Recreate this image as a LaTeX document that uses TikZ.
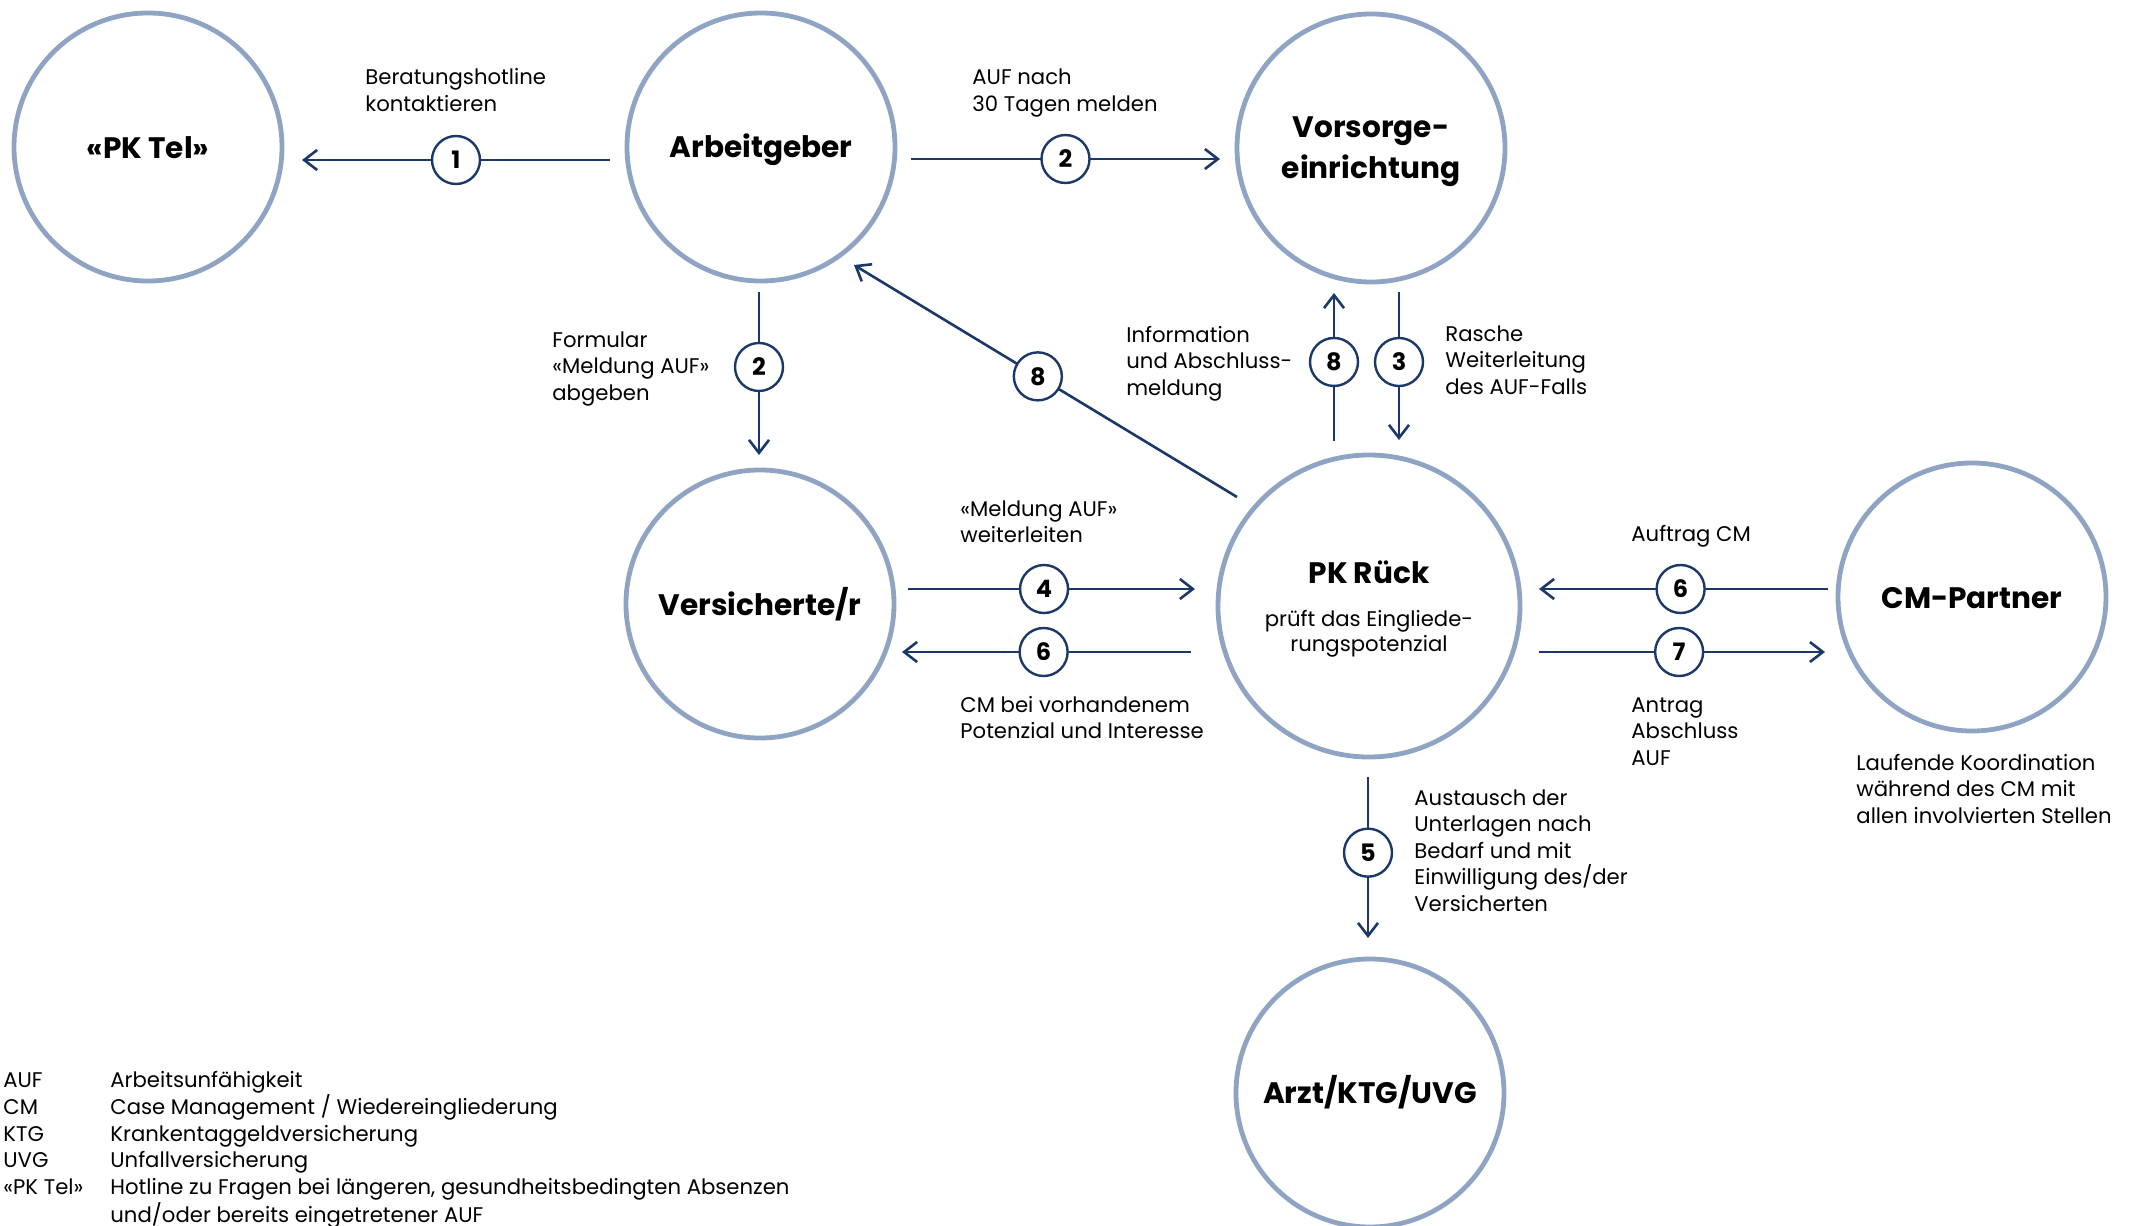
\documentclass[tikz,border=0pt]{standalone}
\usepackage{fontspec}
\setmainfont{Poppins}
\usetikzlibrary{calc,arrows.meta}
\definecolor{ring}{HTML}{8EA4C2}
\definecolor{navy}{HTML}{1B3868}
\tikzset{
  ent/.style={circle,draw=ring,line width=2.4pt,minimum size=#1,inner sep=0pt},
  ttl/.style={anchor=base,inner sep=0pt,font=\bfseries\fontsize{14.8}{20.5}\selectfont,align=center},
  lbl/.style={anchor=base west,inner sep=0pt,font=\fontsize{10.6}{13.25}\selectfont,align=left},
  sub/.style={anchor=base,inner sep=0pt,font=\fontsize{10.6}{12.5}\selectfont,align=center},
  arr/.style={draw=navy,line width=1.3pt,-{Straight Barb[length=6.5pt,width=10pt,line width=1.3pt]}},
  num/.style={circle,draw=navy,fill=white,line width=1.2pt,minimum size=24pt,inner sep=0pt,font=\bfseries\fontsize{12}{12}\selectfont},
}
\begin{document}
\begin{tikzpicture}[x=0.5pt,y=-0.5pt]
\useasboundingbox (0,0) rectangle (2132,1226);
% entities
\node[ent=134pt] (pktel) at (148,147) {};
\node[ent=134pt] (arb) at (761,147) {};
\node[ent=134pt] (vor) at (1371,148) {};
\node[ent=134pt] (vers) at (760,604) {};
\node[ent=151pt] (pk) at (1369,606) {};
\node[ent=134pt] (cm) at (1972,597) {};
\node[ent=134pt] (arzt) at (1370,1093) {};
% titles (base anchor = baseline of the last line)
\node[ttl] (pkteltxt) at ($(pktel.center)+(0,11)$) {«PK Tel»};
\node[ttl] (arbtxt) at ($(arb.center)+(0,10)$) {Arbeitgeber};
\node[ttl] (vortxt) at ($(vor.center)+(0,30)$) {Vorsorge-\\einrichtung};
\node[ttl] (verstxt) at ($(vers.center)+(0,11)$) {Versicherte/r};
\node[ttl] (pktxt) at ($(pk.center)+(0,-23)$) {PK Rück};
\node[sub] (pksub) at ($(pk.center)+(0,45)$) {prüft das Eingliede-\\rungspotenzial};
\node[ttl] (cmtxt) at ($(cm.center)+(0,11)$) {CM-Partner};
\node[ttl] (arzttxt) at ($(arzt.center)+(0,10)$) {Arzt/KTG/UVG};
% connectors
\draw[arr] ($(arb.center)+(-151,13)$) -- node[num]{1} ($(pktel.center)+(154,13)$);
\draw[arr] ($(arb.center)+(150,12)$) -- node[num]{2} ($(vor.center)+(-151,11)$);
\draw[arr] ($(arb.center)+(-2,145)$) -- node[num,pos=0.46]{2} ($(vers.center)+(-1,-149)$);
\draw[arr] ($(vers.center)+(148,-15)$) -- node[num,pos=0.474]{4} ($(pk.center)+(-174,-17)$);
\draw[arr] ($(pk.center)+(-178,46)$) -- node[num,pos=0.51]{6} ($(vers.center)+(142,48)$);
\draw[arr] ($(pk.center)+(-132,-109)$) -- node[num,pos=0.52]{8} ($(arb.center)+(93,118)$);
\draw[arr] ($(pk.center)+(-35,-165)$) -- node[num,pos=0.534]{8} ($(vor.center)+(-37,145)$);
\draw[arr] ($(vor.center)+(28,144)$) -- node[num,pos=0.473]{3} ($(pk.center)+(30,-166)$);
\draw[arr] ($(cm.center)+(-144,-8)$) -- node[num,pos=0.51]{6} ($(pk.center)+(170,-17)$);
\draw[arr] ($(pk.center)+(170,46)$) -- node[num,pos=0.49]{7} ($(cm.center)+(-147,55)$);
\draw[arr] ($(pk.center)+(-1,171)$) -- node[num,pos=0.47]{5} ($(arzt.center)+(-2,-155)$);
% labels (positioned at the baseline of their last line)
\node[lbl] (l1) at (365,111.5) {Beratungshotline\\kontaktieren};
\node[lbl] (l2) at (972,111.5) {AUF nach\\30 Tagen melden};
\node[lbl] (l3) at (552,400) {Formular\\«Meldung AUF»\\abgeben};
\node[lbl] (l4) at (1126,395) {Information\\und Abschluss-\\meldung};
\node[lbl] (l5) at (1445,394) {Rasche\\Weiterleitung\\des AUF-Falls};
\node[lbl] (l6) at (960,542.5) {«Meldung AUF»\\weiterleiten};
\node[lbl] (l7) at (960,738.5) {CM bei vorhandenem\\Potenzial und Interesse};
\node[lbl] (l8) at (1631,541) {Auftrag CM};
\node[lbl] (l9) at (1631,765) {Antrag\\Abschluss\\AUF};
\node[lbl] (l10) at (1856,823) {Laufende Koordination\\während des CM mit\\allen involvierten Stellen};
\node[lbl] (l11) at (1414,911) {Austausch der\\Unterlagen nach\\Bedarf und mit\\Einwilligung des/der\\Versicherten};
% legend
\node[anchor=base west,inner sep=0pt,font=\fontsize{10.6}{13.25}\selectfont] (legend) at (3,1087) {%
\begin{tabular}[t]{@{}p{53.5pt}@{}l@{}}
AUF & Arbeitsunfähigkeit\\
CM & Case Management / Wiedereingliederung\\
KTG & Krankentaggeldversicherung\\
UVG & Unfallversicherung\\
«PK Tel» & Hotline zu Fragen bei längeren, gesundheitsbedingten Absenzen\\
 & und/oder bereits eingetretener AUF
\end{tabular}};
\end{tikzpicture}
\end{document}
